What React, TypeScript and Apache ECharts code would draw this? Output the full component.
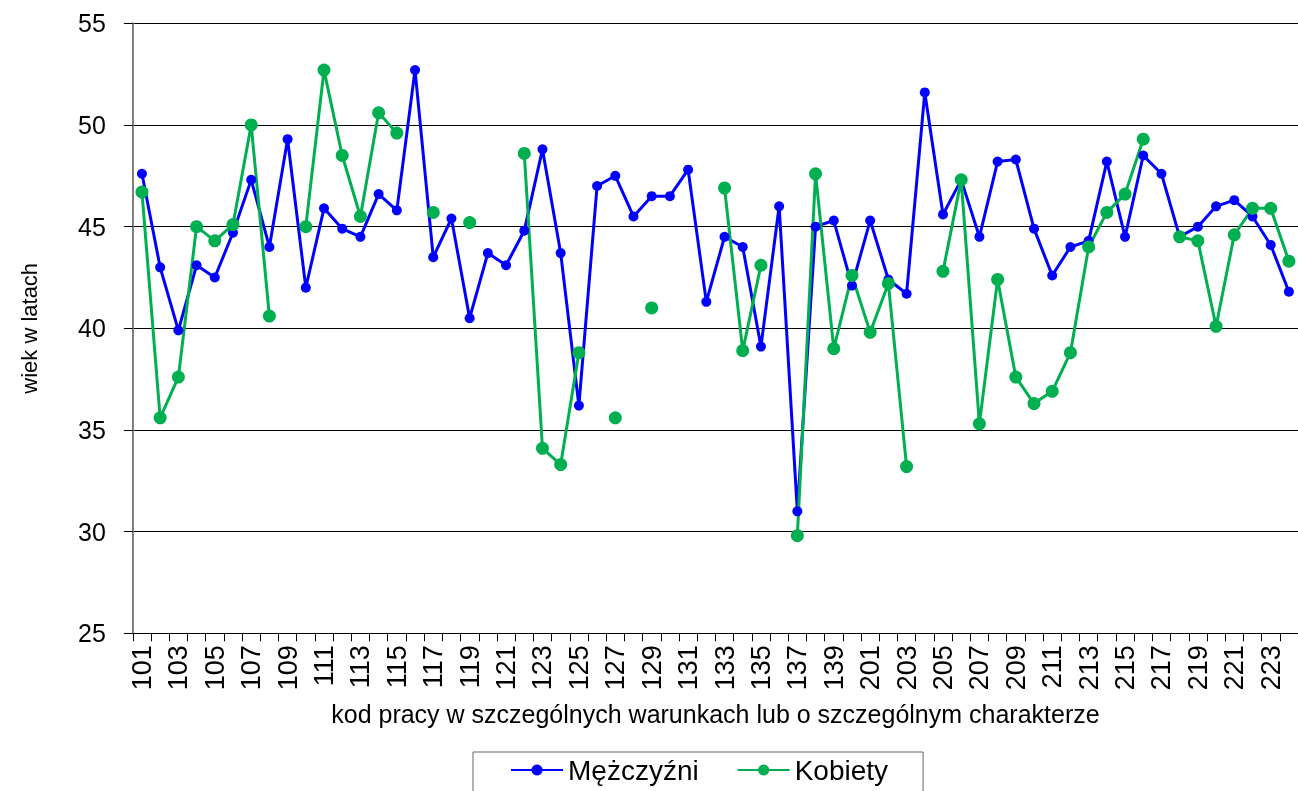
import React, { useEffect, useRef } from "react";
import * as echarts from "echarts";

const categories: string[] = [
  "101", "102", "103", "104", "105", "106", "107", "108", "109", "110",
  "111", "112", "113", "114", "115", "116", "117", "118", "119", "120",
  "121", "122", "123", "124", "125", "126", "127", "128", "129", "130",
  "131", "132", "133", "134", "135", "136", "137", "138", "139", "140",
  "201", "202", "203", "204", "205", "206", "207", "208", "209", "210",
  "211", "212", "213", "214", "215", "216", "217", "218", "219", "220",
  "221", "222", "223", "224",
];

const menValues: (number | null)[] = [
  47.6, 43.0, 39.9, 43.1, 42.5, 44.7, 47.3, 44.0, 49.3, 42.0,
  45.9, 44.9, 44.5, 46.6, 45.8, 52.7, 43.5, 45.4, 40.5, 43.7,
  43.1, 44.8, 48.8, 43.7, 36.2, 47.0, 47.5, 45.5, 46.5, 46.5,
  47.8, 41.3, 44.5, 44.0, 39.1, 46.0, 31.0, 45.0, 45.3, 42.1,
  45.3, 42.4, 41.7, 51.6, 45.6, 47.3, 44.5, 48.2, 48.3, 44.9,
  42.6, 44.0, 44.3, 48.2, 44.5, 48.5, 47.6, 44.5, 45.0, 46.0,
  46.3, 45.5, 44.1, 41.8,
];

const womenValues: (number | null)[] = [
  46.7, 35.6, 37.6, 45.0, 44.3, 45.1, 50.0, 40.6, null, 45.0,
  52.7, 48.5, 45.5, 50.6, 49.6, null, 45.7, null, 45.2, null,
  null, 48.6, 34.1, 33.3, 38.8, null, 35.6, null, 41.0, null,
  null, null, 46.9, 38.9, 43.1, null, 29.8, 47.6, 39.0, 42.6,
  39.8, 42.2, 33.2, null, 42.8, 47.3, 35.3, 42.4, 37.6, 36.3,
  36.9, 38.8, 44.0, 45.7, 46.6, 49.3, null, 44.5, 44.3, 40.1,
  44.6, 45.9, 45.9, 43.3,
];

const seriesNames = ["Mężczyźni", "Kobiety"];
const xTitle = "kod pracy w szczególnych warunkach lub o szczególnym charakterze";
const yTitle = "wiek w latach";
const yMin = 25;
const yMax = 55;
const yStep = 5;

export default function App() {
  const ref = useRef<HTMLDivElement>(null);

  useEffect(() => {
    if (!ref.current) return;
    const chart = echarts.init(ref.current, null, { renderer: "svg" });
    chart.setOption({
      animation: false,
      textStyle: { fontFamily: "Liberation Sans" },
      grid: { left: 132.85, top: 23.3, right: -6, bottom: 157.7, containLabel: false },
      legend: {
        data: seriesNames,
        left: 473,
        top: 752,
        orient: "horizontal",
        itemWidth: 52,
        itemHeight: 14,
        itemGap: 38,
        borderColor: "#666666",
        borderWidth: 1,
        padding: [4, 35, 12, 37],
        textStyle: { fontSize: 28, color: "#000", fontFamily: "Liberation Sans" },
      },
      xAxis: {
        type: "category",
        data: categories,
        boundaryGap: true,
        axisLine: { show: true, lineStyle: { color: "#000", width: 1 } },
        axisTick: { show: true, interval: 0, length: 8, lineStyle: { color: "#000" } },
        axisLabel: { interval: 1, rotate: 90, fontSize: 27, color: "#000", margin: 12 },
        splitLine: { show: false },
        name: xTitle,
        nameLocation: "middle",
        nameGap: 68,
        nameTextStyle: { fontSize: 25, color: "#000" },
      },
      yAxis: {
        type: "value",
        min: yMin,
        max: yMax,
        interval: yStep,
        axisLine: { show: true, lineStyle: { color: "#808080", width: 2 } },
        axisTick: { show: true, length: 9, lineStyle: { color: "#000" } },
        axisLabel: { fontSize: 25, color: "#000", margin: 27 },
        splitLine: { show: true, lineStyle: { color: "#000", width: 1 } },
        name: yTitle,
        nameLocation: "middle",
        nameRotate: 90,
        nameGap: 92,
        nameTextStyle: { fontSize: 22, color: "#000" },
      },
      series: [
        {
          name: seriesNames[0],
          type: "line",
          data: menValues,
          color: "#0000FF",
          symbol: "circle",
          symbolSize: 10,
          showSymbol: true,
          showAllSymbol: true,
          connectNulls: false,
          lineStyle: { color: "#0000FF", width: 3 },
          itemStyle: { color: "#0000FF" },
        },
        {
          name: seriesNames[1],
          type: "line",
          data: womenValues,
          color: "#00B050",
          symbol: "circle",
          symbolSize: 13,
          showSymbol: true,
          showAllSymbol: true,
          connectNulls: false,
          lineStyle: { color: "#00B050", width: 3 },
          itemStyle: { color: "#00B050" },
        },
      ],
    });
    return () => chart.dispose();
  }, []);

  return (
    <div
      ref={ref}
      style={{ position: "fixed", left: 0, top: 0, width: 1298, height: 791 }}
    />
  );
}
